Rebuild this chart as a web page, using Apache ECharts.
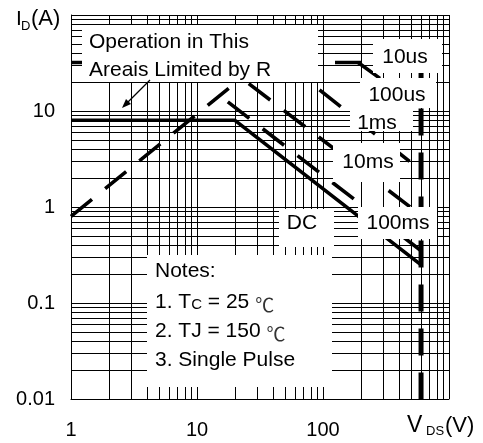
<!DOCTYPE html>
<html>
<head>
<meta charset="utf-8">
<script src="https://cdn.jsdelivr.net/npm/echarts@6/dist/echarts.min.js"></script>
<style>
  html, body { margin: 0; padding: 0; background: #fff; }
  #chart { width: 483px; height: 443px; }
</style>
</head>
<body>
<div id="chart"></div>
<script>
// Log grid positions (major decades plus 2..9 minors)
const xGridValues = [1, 2, 3, 4, 5, 6, 7, 8, 9, 10, 20, 30, 40, 50, 60, 70, 80, 90,
  100, 200, 300, 400, 500, 600, 700, 800, 900, 1000];
const yGridValues = [0.01, 0.02, 0.03, 0.04, 0.05, 0.06, 0.07, 0.08, 0.09,
  0.1, 0.2, 0.3, 0.4, 0.5, 0.6, 0.7, 0.8, 0.9,
  1, 2, 3, 4, 5, 6, 7, 8, 9, 10, 20, 30, 40, 50, 60, 70, 80, 90, 100];
const xTickLabels = ['1', '10', '100'];
const yTickLabels = ['0.01', '0.1', '1', '10'];

// Safe operating area boundaries, [V_DS (V), I_D (A)]
const rdsLimit = [[1, 0.8], [32, 32]];
const pulse10us = [[1, 32], [600, 32]];
const breakdown = [[600, 32], [600, 0.01]];
const pulse100us = [[190, 32], [600, 10.7]];
const pulse1ms = [[50, 32], [600, 2.4]];
const pulse10ms = [[22.6, 22], [600, 0.82]];
const pulse100ms = [[15.2, 14.4], [600, 0.35]];
const dcLimit = [[1, 8], [20, 8], [600, 0.25]];

const FONT = '"Liberation Sans", Arial, Helvetica, sans-serif';
const DASH = [27, 17];

function fmt(v) { return String(+Number(v).toPrecision(6)); }

function boundary(data, opts) {
  return {
    type: 'line',
    data: data,
    symbol: 'none',
    silent: true,
    z: 3,
    lineStyle: {
      color: '#000',
      width: opts.width || 3.6,
      type: opts.solid ? 'solid' : DASH,
      dashOffset: opts.offset || 0,
      cap: 'butt'
    }
  };
}

function box(x, y, w, h) {
  return { type: 'rect', shape: { x: x, y: y, width: w, height: h },
    style: { fill: '#fff' }, z: 100, silent: true };
}
function label(text, x, y, size, align) {
  return { type: 'text', x: x, y: y, z: 101, silent: true,
    style: { text: text, font: size + 'px ' + FONT, fill: '#000',
      textAlign: align || 'left', textVerticalAlign: 'middle' } };
}

const chart = echarts.init(document.getElementById('chart'));
chart.setOption({
  animation: false,
  backgroundColor: '#fff',
  grid: { left: 71, right: 34, top: 15, bottom: 44 },
  xAxis: {
    type: 'log', logBase: 10, min: 1, max: 1000,
    axisLine: { show: true, lineStyle: { color: '#000', width: 1 } },
    axisTick: { show: false },
    splitLine: { show: false },
    axisLabel: {
      margin: 21, color: '#000', fontSize: 20, fontFamily: FONT,
      formatter: v => xTickLabels.includes(fmt(v)) ? fmt(v) : ''
    }
  },
  yAxis: {
    type: 'log', logBase: 10, min: 0.01, max: 100,
    axisLine: { show: true, lineStyle: { color: '#000', width: 1 } },
    axisTick: { show: false },
    splitLine: { show: false },
    axisLabel: {
      margin: 16, color: '#000', fontSize: 20, fontFamily: FONT,
      formatter: v => yTickLabels.includes(fmt(v)) ? fmt(v) : ''
    }
  },
  series: [
    {
      type: 'line', data: [], z: 1, silent: true,
      markLine: {
        silent: true, symbol: ['none', 'none'], label: { show: false },
        lineStyle: { color: '#000', width: 1, type: 'solid' },
        data: xGridValues.map(v => ({ xAxis: v }))
          .concat(yGridValues.map(v => ({ yAxis: v })))
      }
    },
    boundary(rdsLimit, {}),
    boundary(pulse10us, {}),
    boundary(breakdown, { width: 5, offset: 42 }),
    boundary(pulse100us, {}),
    boundary(pulse1ms, {}),
    boundary(pulse10ms, { offset: 35 }),
    boundary(pulse100ms, { offset: 34 }),
    boundary(dcLimit, { solid: true })
  ],
  graphic: [
    box(82, 25, 236, 57),
    label('Operation in This', 89, 42, 21),
    label('Areais Limited by R', 89, 70, 21),
    { type: 'line', shape: { x1: 150, y1: 80, x2: 126, y2: 104 },
      style: { stroke: '#000', lineWidth: 1.3 }, z: 101, silent: true },
    { type: 'polygon', shape: { points: [[122, 108], [131, 104], [126, 99]] },
      style: { fill: '#000' }, z: 101, silent: true },

    box(373, 39, 69, 34),
    label('10us', 405, 57, 21, 'center'),
    box(360, 78, 76, 30),
    label('100us', 397, 95, 21, 'center'),
    box(350, 108, 63, 23),
    label('1ms', 377, 123, 21, 'center'),
    box(333, 143, 67, 39),
    label('10ms', 368, 162, 21, 'center'),
    box(279, 209, 55, 38),
    label('DC', 302, 223, 21, 'center'),
    box(358, 207, 79, 32),
    label('100ms', 398, 223, 21, 'center'),

    box(147, 255, 185, 132),
    label('Notes:', 155, 271, 21),
    {
      type: 'text', x: 155, y: 302, z: 101, silent: true,
      style: {
        text: '1. T{s|C} = 25 {d|℃}',
        font: '21px ' + FONT, fill: '#000', textVerticalAlign: 'middle',
        rich: {
          s: { fontSize: 15, fontFamily: FONT, padding: [5, 0, 0, 0] },
          d: { fontSize: 19, fontFamily: '"Noto Sans CJK SC", sans-serif', fill: '#333', padding: [5, 0, 0, 0] }
        }
      }
    },
    {
      type: 'text', x: 155, y: 331, z: 101, silent: true,
      style: {
        text: '2. TJ = 150 {d|℃}',
        font: '21px ' + FONT, fill: '#000', textVerticalAlign: 'middle',
        rich: {
          d: { fontSize: 19, fontFamily: '"Noto Sans CJK SC", sans-serif', fill: '#333', padding: [5, 0, 0, 0] }
        }
      }
    },
    label('3. Single Pulse', 155, 360, 21),

    // axis titles
    label('I', 16, 19, 21),
    label('D', 21, 26, 13),
    label('(A)', 31, 19, 22),
    label('V', 407, 426, 23),
    label('DS', 426, 431, 13),
    label('(V)', 445, 426, 22)
  ]
});
</script>
</body>
</html>
